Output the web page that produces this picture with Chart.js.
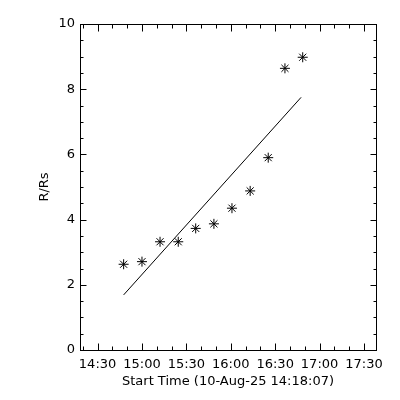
<!DOCTYPE html>
<html>
<head>
<meta charset="utf-8">
<script src="https://cdn.jsdelivr.net/npm/chart.js@4/dist/chart.umd.min.js"></script>
<style>
    body { margin: 0; background: #fff; }
    #box { width: 400px; height: 400px; }
</style>
</head>
<body>
<div id="box"><canvas id="grafico"></canvas></div>
<script>
// tempi in minuti dalle 14:00
const tempiPunti = [47.6, 60.0, 72.2, 84.5, 96.3, 108.6, 120.8, 133.1, 145.3, 156.6, 168.6];
const raggi = [2.63, 2.71, 3.32, 3.32, 3.73, 3.87, 4.35, 4.88, 5.90, 8.64, 8.98];
const tempiFit = [47.6, 167.5];
const raggiFit = [1.69, 7.75];
const tickTempi = [30, 60, 90, 120, 150, 180, 210];
const tickRaggi = [0, 2, 4, 6, 8, 10];
const inizio = 18.12; // 14:18:07

function formattaOra(min) {
    const h = 14 + Math.floor(min / 60);
    const m = Math.round(min % 60);
    return h + ':' + String(m).padStart(2, '0');
}

Chart.defaults.font.family = 'DejaVu Sans';
Chart.defaults.font.size = 13;
Chart.defaults.color = '#000';

// cornice e tacche verso l'interno su tutti e quattro i lati
const cornice = {
    id: 'cornice',
    afterDraw(chart) {
        const ctx = chart.ctx;
        const a = chart.chartArea;
        const sx = chart.scales.x;
        const sy = chart.scales.y;
        const l = Math.round(a.left) + 0.5, r = Math.round(a.right) + 0.5;
        const t = Math.round(a.top) + 0.5, b = Math.round(a.bottom) + 0.5;
        ctx.save();
        ctx.strokeStyle = '#000';
        ctx.lineWidth = 1;
        ctx.strokeRect(l, t, r - l, b - t);
        ctx.beginPath();
        for (let v = 20; v <= 210; v += 10) {
            const x = Math.round(sx.getPixelForValue(v)) + 0.5;
            if (x <= l || x >= r) continue;
            const len = v % 30 === 0 ? 7 : 4;
            ctx.moveTo(x, b); ctx.lineTo(x, b - len);
            ctx.moveTo(x, t); ctx.lineTo(x, t + len);
        }
        for (let v = 0.5; v < 10; v += 0.5) {
            const y = Math.round(sy.getPixelForValue(v)) + 0.5;
            const len = v % 2 === 0 ? 6 : 3;
            ctx.moveTo(l, y); ctx.lineTo(l + len, y);
            ctx.moveTo(r, y); ctx.lineTo(r - len, y);
        }
        ctx.stroke();
        ctx.restore();
    }
};

const ctx = document.getElementById('grafico').getContext('2d');
new Chart(ctx, {
    type: 'scatter',
    data: {
        datasets: [{
            label: 'R/Rs',
            data: tempiPunti.map((t, i) => ({ x: t, y: raggi[i] })),
            pointStyle: 'star',
            pointRadius: 5,
            borderColor: '#000',
            borderWidth: 1,
            backgroundColor: '#000'
        }, {
            label: 'fit',
            type: 'line',
            data: tempiFit.map((t, i) => ({ x: t, y: raggiFit[i] })),
            borderColor: '#000',
            borderWidth: 1,
            pointRadius: 0,
            fill: false
        }]
    },
    options: {
        responsive: true,
        maintainAspectRatio: false,
        animation: false,
        layout: { padding: { top: 24, right: 24, left: 0, bottom: 0 } },
        plugins: { legend: { display: false }, tooltip: { enabled: false } },
        scales: {
            x: {
                type: 'linear',
                min: inizio,
                max: inizio + 200,
                grid: { display: false, drawTicks: false },
                border: { display: false },
                afterBuildTicks: (scale) => { scale.ticks = tickTempi.map(v => ({ value: v })); },
                afterFit: (scale) => { scale.height = 50; },
                ticks: {
                    padding: 7,
                    maxRotation: 0,
                    autoSkip: false,
                    callback: (v) => formattaOra(v)
                },
                title: {
                    display: true,
                    text: 'Start Time (10-Aug-25 14:18:07)',
                    padding: { top: 0, bottom: 11 }
                }
            },
            y: {
                min: 0,
                max: 10,
                grid: { display: false, drawTicks: false },
                border: { display: false },
                afterBuildTicks: (scale) => { scale.ticks = tickRaggi.map(v => ({ value: v })); },
                afterFit: (scale) => { scale.width = 80; },
                ticks: { padding: 5 },
                title: {
                    display: true,
                    text: 'R/Rs',
                    padding: { top: 37, bottom: 0 }
                }
            }
        }
    },
    plugins: [cornice]
});
</script>
</body>
</html>
